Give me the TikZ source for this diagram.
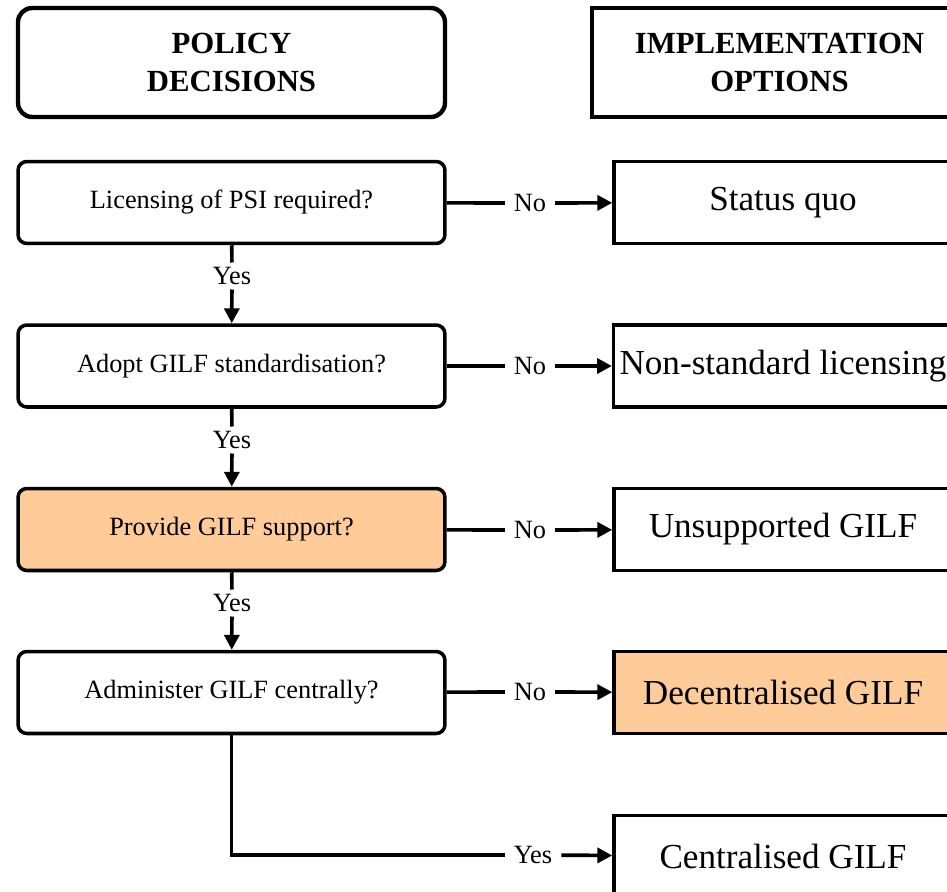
\documentclass[tikz,border=0pt]{standalone}
\usepackage{fontspec}
\setmainfont{Liberation Serif}
\usetikzlibrary{arrows.meta}
\definecolor{peach}{RGB}{255,204,153}

\begin{document}
\begin{tikzpicture}[x=0.02cm,y=-0.02cm,
  header/.style={draw, line width=2.5pt, minimum height=2.18cm, align=center,
    font=\fontsize{17.5}{21.5}\selectfont\bfseries},
  decision/.style={draw, line width=2pt, rounded corners=5pt, minimum width=8.54cm,
    minimum height=1.64cm, font=\fontsize{15}{18}\selectfont},
  option/.style={draw, line width=2pt, minimum width=6.76cm, minimum height=1.64cm,
    font=\fontsize{20}{24}\selectfont},
  answer/.style={inner xsep=5pt, inner ysep=2.5pt, font=\fontsize{15}{18}\selectfont},
  link/.style={line width=2.1pt},
  arrow/.style={link, -{Triangle[length=8.5pt,width=8.5pt]}}]
  \useasboundingbox (0,0) rectangle (947,892);
  \clip (0,0) rectangle (947,892);
  % Column headers
  \node[header, rounded corners=8pt, minimum width=8.54cm] (pol) at (231.5,62.5) {POLICY\\DECISIONS};
  \node[header, minimum width=7.5cm] (impl) at (779.5,62.5) {IMPLEMENTATION\\OPTIONS};
  % Policy decisions
  \node[decision] (q1) at (231.5,202.5) {Licensing of PSI required?};
  \node[decision] (q2) at (231.5,366) {Adopt GILF standardisation?};
  \node[decision, fill=peach] (q3) at (231.5,529.5) {Provide GILF support?};
  \node[decision] (q4) at (231.5,692.5) {Administer GILF centrally?};
  % Implementation options
  \node[option] (o1) at (783,202.5) {Status quo};
  \node[option] (o2) at (783,366) {Non-standard licensing};
  \node[option] (o3) at (783,529.5) {Unsupported GILF};
  \node[option, fill=peach] (o4) at (783,692.5) {Decentralised GILF};
  \node[option] (o5) at (783,856.5) {Centralised GILF};
  % Answers
  \node[answer] (n1) at (530,203) {No};
  \node[answer] (n2) at (530,366) {No};
  \node[answer] (n3) at (530,530) {No};
  \node[answer] (n4) at (530,692) {No};
  \node[answer] (y1) at (232,276) {Yes};
  \node[answer] (y2) at (232,440) {Yes};
  \node[answer] (y3) at (232,603) {Yes};
  \node[answer] (y4) at (533,855) {Yes};
  % Draw the connectors
  \draw[link] (q1) -- (n1);
  \draw[arrow] (n1) -- (o1);
  \draw[link] (q2) -- (n2);
  \draw[arrow] (n2) -- (o2);
  \draw[link] (q3) -- (n3);
  \draw[arrow] (n3) -- (o3);
  \draw[link] (q4) -- (n4);
  \draw[arrow] (n4) -- (o4);
  \draw[link] (q1) -- (y1);
  \draw[arrow] (y1) -- (q2);
  \draw[link] (q2) -- (y2);
  \draw[arrow] (y2) -- (q3);
  \draw[link] (q3) -- (y3);
  \draw[arrow] (y3) -- (q4);
  \draw[link] (q4) |- (y4);
  \draw[arrow] (y4) -- (o5);
\end{tikzpicture}
\end{document}
